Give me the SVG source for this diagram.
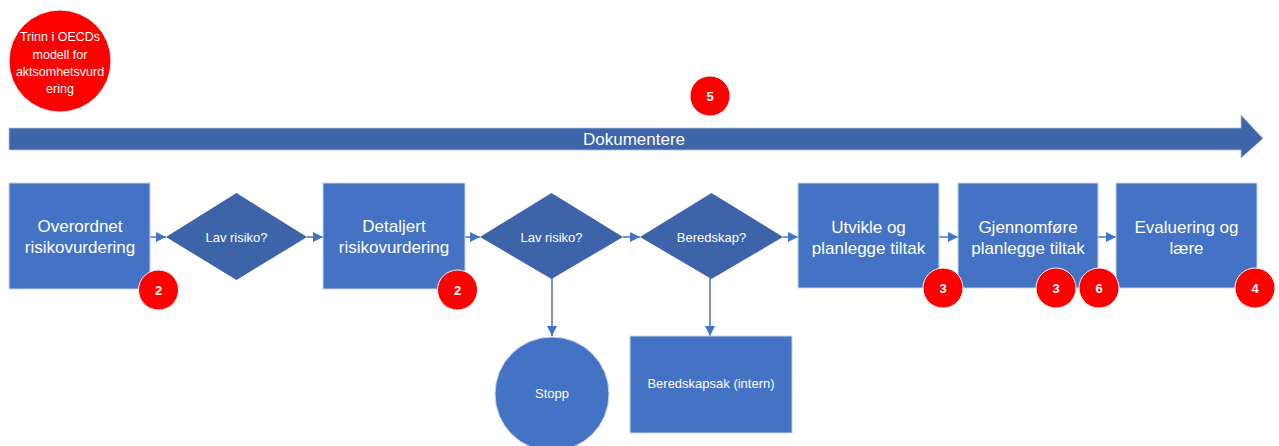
<svg xmlns="http://www.w3.org/2000/svg" width="1279" height="446" viewBox="0 0 1279 446">
<style>
.box{fill:#4472C4;stroke:#C9D5EA;stroke-width:1}
.dia{fill:#3D63A9;stroke:none}
.red{fill:#FF0000;stroke:#F2F2F2;stroke-width:1}
.t{font-family:"Liberation Sans",Arial,sans-serif;fill:#fff;text-anchor:middle;dominant-baseline:central}
.bt{font-size:17px}
.dt{font-size:13px}
.nt{font-size:13px;font-weight:bold}
.con{stroke:#4472C4;stroke-width:1.5;fill:none}
</style>
<defs>
<marker id="ah" viewBox="0 0 10 10" refX="10" refY="5" markerWidth="7" markerHeight="8" orient="auto" markerUnits="strokeWidth">
<path d="M0,0 L10,5 L0,10 z" fill="#4472C4"/>
</marker>
</defs>
<rect width="1279" height="446" fill="#fff"/>
<g id="legend">
<circle class="red" cx="60" cy="61" r="51"/>
<text class="t" font-size="12.5" x="60" y="37">Trinn i OECDs</text>
<text class="t" font-size="12.5" x="60" y="55">modell for</text>
<text class="t" font-size="12.5" x="60" y="72">aktsomhetsvurd</text>
<text class="t" font-size="12.5" x="60" y="89">ering</text>
</g>
<g id="dokumentere">
<path d="M9,128 L1241,128 L1241,115 L1263,138.5 L1241,158 L1241,150 L9,150 z" fill="#3E64AA" stroke="#AFC1E0" stroke-width="0.8"/>
<text class="t bt" x="634" y="139">Dokumentere</text>
</g>
<g id="badge5">
<circle class="red" cx="710" cy="96" r="20"/>
<text class="t nt" x="710" y="96">5</text>
</g>
<g id="connectors">
<line class="con" x1="150" y1="237" x2="166" y2="237" marker-end="url(#ah)"/>
<line class="con" x1="307" y1="237" x2="323" y2="237" marker-end="url(#ah)"/>
<line class="con" x1="465" y1="237" x2="480" y2="237" marker-end="url(#ah)"/>
<line class="con" x1="623" y1="237" x2="640" y2="237" marker-end="url(#ah)"/>
<line class="con" x1="783" y1="237" x2="798" y2="237" marker-end="url(#ah)"/>
<line class="con" x1="939" y1="237" x2="958" y2="237" marker-end="url(#ah)"/>
<line class="con" x1="1098" y1="237" x2="1116" y2="237" marker-end="url(#ah)"/>
<line class="con" x1="552" y1="278" x2="552" y2="336" marker-end="url(#ah)"/>
<line class="con" x1="710" y1="278" x2="710" y2="336" marker-end="url(#ah)"/>
</g>
<g id="n1">
<rect class="box" x="9" y="183" width="141" height="106"/>
<text class="t bt" x="80" y="226">Overordnet</text>
<text class="t bt" x="80" y="247">risikovurdering</text>
</g>
<g id="d1">
<polygon class="dia" points="166,237 236.5,193 307,237 236.5,280"/>
<text class="t dt" x="236.5" y="237">Lav risiko?</text>
</g>
<g id="n2">
<rect class="box" x="323" y="183" width="142" height="106"/>
<text class="t bt" x="394" y="226">Detaljert</text>
<text class="t bt" x="394" y="247">risikovurdering</text>
</g>
<g id="d2">
<polygon class="dia" points="480,237 551.5,193 623,237 551.5,279"/>
<text class="t dt" x="551.5" y="237">Lav risiko?</text>
</g>
<g id="d3">
<polygon class="dia" points="640,237 711.5,193 783,237 711.5,279"/>
<text class="t dt" x="711.5" y="237">Beredskap?</text>
</g>
<g id="n3">
<rect class="box" x="798" y="183" width="141" height="105"/>
<text class="t bt" x="868.5" y="227">Utvikle og</text>
<text class="t bt" x="868.5" y="248">planlegge tiltak</text>
</g>
<g id="n4">
<rect class="box" x="958" y="183" width="140" height="105"/>
<text class="t bt" x="1028" y="227">Gjennomføre</text>
<text class="t bt" x="1028" y="248">planlegge tiltak</text>
</g>
<g id="n5">
<rect class="box" x="1116" y="183" width="141" height="105"/>
<text class="t bt" x="1186.5" y="227">Evaluering og</text>
<text class="t bt" x="1186.5" y="248">lære</text>
</g>
<g id="stopp">
<circle class="box" cx="552" cy="394" r="57"/>
<text class="t dt" x="552" y="393">Stopp</text>
</g>
<g id="beredskapsak">
<rect class="box" x="630" y="336" width="162" height="97"/>
<text class="t dt" x="711" y="383">Beredskapsak (intern)</text>
</g>
<g id="badges">
<circle class="red" cx="158.5" cy="290" r="20"/><text class="t nt" x="158.5" y="290">2</text>
<circle class="red" cx="457.5" cy="290" r="20"/><text class="t nt" x="457.5" y="290">2</text>
<circle class="red" cx="943" cy="288" r="20"/><text class="t nt" x="943" y="288">3</text>
<circle class="red" cx="1056" cy="288" r="20"/><text class="t nt" x="1056" y="288">3</text>
<circle class="red" cx="1099" cy="288" r="20"/><text class="t nt" x="1099" y="288">6</text>
<circle class="red" cx="1255" cy="288" r="20"/><text class="t nt" x="1255" y="288">4</text>
</g>
</svg>
